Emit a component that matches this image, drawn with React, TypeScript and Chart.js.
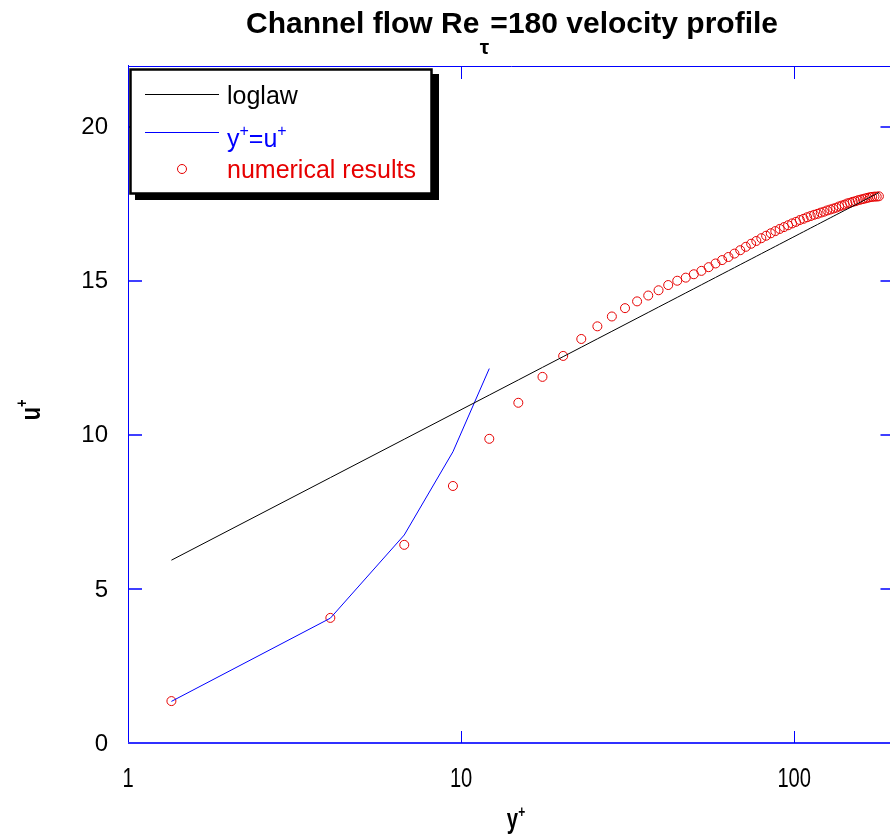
import React, { useEffect, useRef } from "react";
import { Chart, registerables } from "chart.js";

Chart.register(...registerables);

// y+ grid points (cell centres)
const yPlus = [
  1.35, 4.05, 6.75, 9.45, 12.15, 14.85, 17.55, 20.25, 22.95, 25.65,
  28.35, 31.05, 33.75, 36.45, 39.15, 41.85, 44.55, 47.25, 49.95, 52.65,
  55.35, 58.05, 60.75, 63.45, 66.15, 68.85, 71.55, 74.25, 76.95, 79.65,
  82.35, 85.05, 87.75, 90.45, 93.15, 95.85, 98.55, 101.25, 103.95, 106.65,
  109.35, 112.05, 114.75, 117.45, 120.15, 122.85, 125.55, 128.25, 130.95, 133.65,
  136.35, 139.05, 141.75, 144.45, 147.15, 149.85, 152.55, 155.25, 157.95, 160.65,
  163.35, 166.05, 168.75, 171.45, 174.15, 176.85, 179.55,
];

// numerical results u+
const uNumerical = [
  1.36, 4.06, 6.43, 8.34, 9.87, 11.04, 11.88, 12.56, 13.11, 13.52,
  13.84, 14.11, 14.33, 14.52, 14.69, 14.86, 15.0, 15.1, 15.21, 15.32,
  15.44, 15.56, 15.67, 15.77, 15.88, 15.99, 16.1, 16.2, 16.29, 16.38,
  16.46, 16.54, 16.61, 16.68, 16.74, 16.8, 16.86, 16.91, 16.97, 17.01,
  17.06, 17.1, 17.14, 17.17, 17.21, 17.24, 17.28, 17.31, 17.34, 17.37,
  17.41, 17.44, 17.47, 17.51, 17.53, 17.56, 17.58, 17.61, 17.63, 17.65,
  17.67, 17.69, 17.71, 17.72, 17.73, 17.73, 17.74,
];

// log law u+ at the same y+
const uLoglaw = [
  5.932, 8.611, 9.857, 10.678, 11.291, 11.78, 12.188, 12.537, 12.842, 13.114,
  13.358, 13.58, 13.783, 13.971, 14.145, 14.308, 14.46, 14.604, 14.739, 14.868,
  14.99, 15.106, 15.217, 15.323, 15.424, 15.522, 15.616, 15.706, 15.793, 15.877,
  15.959, 16.037, 16.113, 16.187, 16.259, 16.329, 16.397, 16.462, 16.527, 16.589,
  16.65, 16.71, 16.768, 16.824, 16.88, 16.934, 16.987, 17.039, 17.09, 17.14,
  17.188, 17.236, 17.283, 17.329, 17.374, 17.419, 17.462, 17.505, 17.547, 17.588,
  17.629, 17.669, 17.708, 17.747, 17.785, 17.823, 17.86,
];

// viscous sublayer y+ = u+
const linearYPlus = [1.35, 4.05, 6.75, 9.45, 12.15];
const linearUPlus = [1.35, 4.05, 6.75, 9.45, 12.15];

const xTicks = [1, 10, 100];
const yTicks = [0, 5, 10, 15, 20];

const BLUE = "#0000ff";
const RED = "#e60000";
const FONT = '"Liberation Sans", Arial, Helvetica, sans-serif';

const decorPlugin = {
  id: "decor",
  afterDraw(chart: any) {
    const ctx = chart.ctx as CanvasRenderingContext2D;
    const xs = chart.scales.x;
    const ys = chart.scales.y;
    const { left, right, top, bottom } = chart.chartArea;
    ctx.save();

    // frame
    ctx.strokeStyle = BLUE;
    ctx.lineWidth = 1;
    ctx.beginPath();
    ctx.moveTo(left, top + 1.5);
    ctx.lineTo(right, top + 1.5);
    ctx.moveTo(left + 0.5, top);
    ctx.lineTo(left + 0.5, bottom);
    ctx.moveTo(right - 0.5, top);
    ctx.lineTo(right - 0.5, bottom);
    ctx.stroke();
    ctx.strokeStyle = "#3030ff";
    ctx.lineWidth = 2;
    ctx.beginPath();
    ctx.moveTo(left, bottom);
    ctx.lineTo(right, bottom);
    ctx.stroke();

    // ticks
    ctx.strokeStyle = BLUE;
    ctx.lineWidth = 1.5;
    ctx.beginPath();
    yTicks.forEach((v) => {
      if (v === 0) return;
      const y = Math.round(ys.getPixelForValue(v));
      ctx.moveTo(left, y);
      ctx.lineTo(left + 14, y);
      ctx.moveTo(right, y);
      ctx.lineTo(right - 14, y);
    });
    ctx.stroke();
    ctx.lineWidth = 1;
    ctx.beginPath();
    xTicks.forEach((v) => {
      if (v === 1) return;
      const x = Math.round(xs.getPixelForValue(v)) + 0.5;
      ctx.moveTo(x, bottom);
      ctx.lineTo(x, bottom - 12);
      ctx.moveTo(x, top + 1);
      ctx.lineTo(x, top + 14);
    });
    ctx.stroke();

    // tick labels
    ctx.fillStyle = "#000";
    ctx.font = `24px ${FONT}`;
    ctx.textAlign = "right";
    ctx.textBaseline = "middle";
    yTicks.forEach((v) => {
      ctx.fillText(String(v), 108, ys.getPixelForValue(v) + 1);
    });
    ctx.textAlign = "center";
    xTicks.forEach((v) => {
      const x = xs.getPixelForValue(v);
      ctx.save();
      ctx.translate(x, 779);
      ctx.scale(0.72, 1);
      ctx.font = `28px ${FONT}`;
      ctx.fillText(String(v), 0, 0);
      ctx.restore();
    });

    // x axis title y+
    ctx.save();
    ctx.translate(516, 828);
    ctx.scale(0.75, 1);
    ctx.textAlign = "left";
    ctx.textBaseline = "alphabetic";
    ctx.font = `bold 27px ${FONT}`;
    const wy = ctx.measureText("y").width;
    ctx.font = `bold 16px ${FONT}`;
    const wp = ctx.measureText("+").width;
    const tot = wy + wp;
    ctx.font = `bold 27px ${FONT}`;
    ctx.fillText("y", -tot / 2, 0);
    ctx.font = `bold 16px ${FONT}`;
    ctx.fillText("+", -tot / 2 + wy, -11);
    ctx.restore();

    // y axis title u+
    ctx.save();
    ctx.translate(40, 410);
    ctx.rotate(-Math.PI / 2);
    ctx.scale(0.8, 1);
    ctx.textAlign = "left";
    ctx.textBaseline = "alphabetic";
    ctx.font = `bold 27px ${FONT}`;
    const wu = ctx.measureText("u").width;
    ctx.fillText("u", -(wu + 9) / 2, 0);
    ctx.font = `bold 16px ${FONT}`;
    ctx.fillText("+", -(wu + 9) / 2 + wu, -13);
    ctx.restore();

    // title
    ctx.textAlign = "left";
    ctx.textBaseline = "alphabetic";
    ctx.font = `bold 30px ${FONT}`;
    const t1 = "Channel flow Re";
    const t2 = "=180 velocity profile";
    const w1 = ctx.measureText(t1).width;
    const w2 = ctx.measureText(t2).width;
    const gap = 11;
    const sx = 512 - (w1 + gap + w2) / 2;
    ctx.fillText(t1, sx, 33);
    ctx.fillText(t2, sx + w1 + gap, 33);
    ctx.font = `bold 21px ${FONT}`;
    ctx.fillText("τ", sx + w1 + 0.5, 54);

    // legend
    ctx.fillStyle = "#000";
    ctx.fillRect(135, 74, 304, 126);
    ctx.fillStyle = "#fff";
    ctx.fillRect(130, 69, 302, 125);
    ctx.strokeStyle = "#000";
    ctx.lineWidth = 2.5;
    ctx.strokeRect(130.5, 69.5, 301, 124);

    ctx.lineWidth = 1;
    ctx.strokeStyle = "#000";
    ctx.beginPath();
    ctx.moveTo(145, 94.5);
    ctx.lineTo(219, 94.5);
    ctx.stroke();
    ctx.strokeStyle = BLUE;
    ctx.beginPath();
    ctx.moveTo(145, 132.5);
    ctx.lineTo(219, 132.5);
    ctx.stroke();
    ctx.strokeStyle = RED;
    ctx.beginPath();
    ctx.arc(182, 169, 4.5, 0, Math.PI * 2);
    ctx.stroke();

    ctx.font = `25px ${FONT}`;
    ctx.fillStyle = "#000";
    ctx.fillText("loglaw", 227, 104);
    ctx.fillStyle = BLUE;
    let px = 227;
    const parts: [string, boolean][] = [
      ["y", false],
      ["+", true],
      ["=u", false],
      ["+", true],
    ];
    parts.forEach(([s, sup]) => {
      ctx.font = sup ? `16px ${FONT}` : `25px ${FONT}`;
      ctx.fillText(s, px, sup ? 136 : 147);
      px += ctx.measureText(s).width;
    });
    ctx.font = `25px ${FONT}`;
    ctx.fillStyle = RED;
    ctx.fillText("numerical results", 227, 178);

    ctx.restore();
  },
};

export default function App() {
  const ref = useRef<HTMLCanvasElement>(null);

  useEffect(() => {
    if (!ref.current) return;
    const chart = new Chart(ref.current, {
      type: "scatter",
      data: {
        datasets: [
          {
            label: "loglaw",
            data: yPlus.map((x, i) => ({ x, y: uLoglaw[i] })),
            showLine: true,
            borderColor: "#000",
            borderWidth: 1,
            pointRadius: 0,
            fill: false,
          },
          {
            label: "y+=u+",
            data: linearYPlus.map((x, i) => ({ x, y: linearUPlus[i] })),
            showLine: true,
            borderColor: BLUE,
            borderWidth: 1,
            pointRadius: 0,
            fill: false,
          },
          {
            label: "numerical results",
            data: yPlus.map((x, i) => ({ x, y: uNumerical[i] })),
            showLine: false,
            borderColor: RED,
            backgroundColor: "rgba(0,0,0,0)",
            borderWidth: 1,
            pointRadius: 4.5,
            pointStyle: "circle",
          },
        ],
      },
      options: {
        responsive: false,
        animation: false,
        devicePixelRatio: 1,
        layout: { padding: { left: 128, top: 65, right: 3, bottom: 93 } },
        scales: {
          x: { type: "logarithmic", min: 1, max: 200, display: false },
          y: { type: "linear", min: 0, max: 22, display: false },
        },
        plugins: {
          legend: { display: false },
          tooltip: { enabled: false },
          title: { display: false },
        },
      },
      plugins: [decorPlugin],
    });
    return () => chart.destroy();
  }, []);

  return (
    <div
      style={{
        position: "absolute",
        left: 0,
        top: 0,
        width: 890,
        height: 836,
        overflow: "hidden",
        background: "#fff",
      }}
    >
      <canvas ref={ref} width={900} height={836} style={{ display: "block" }} />
    </div>
  );
}
